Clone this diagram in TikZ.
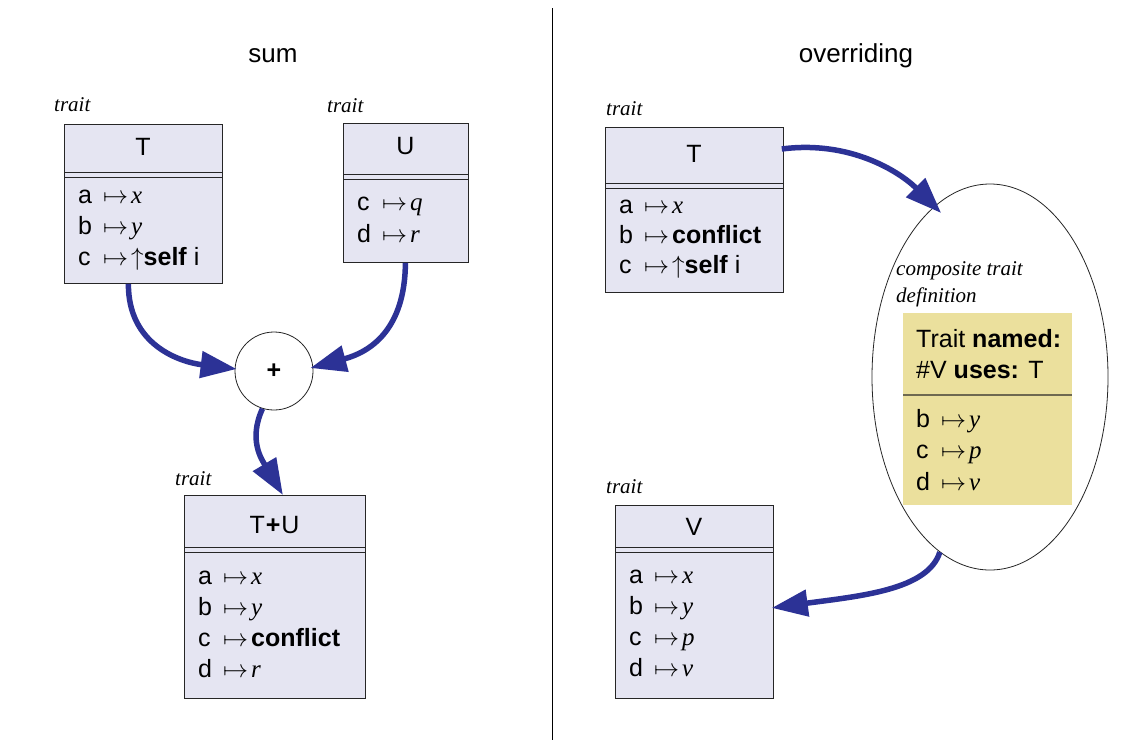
\RequirePackage{fix-cm}
\documentclass[tikz,border=0pt]{standalone}
\usepackage{fontspec}
\setmainfont{Liberation Sans}
\newfontfamily\tms{Liberation Serif}
\usetikzlibrary{arrows.meta,shapes.geometric}
\definecolor{boxfill}{RGB}{229,229,242}
\definecolor{yel}{RGB}{235,224,157}
\definecolor{sepcol}{RGB}{110,105,80}
\definecolor{arrblue}{RGB}{44,50,150}
\newcommand\mrow[2]{\makebox[1em][l]{#1}$\mapsto$\hspace{3pt}#2}
\newcommand\vi[1]{{\tms\itshape #1}}
\begin{document}
\begin{tikzpicture}[x=1pt,y=-1pt,
  box/.style={draw=black!85, fill=boxfill, line width=0.8pt, inner sep=0, anchor=north west},
  lbl/.style={font=\tms\itshape\fontsize{21}{24}\selectfont, anchor=base west, inner sep=0},
  txt/.style={font=\fontsize{25}{30}\selectfont, anchor=base west, inner sep=0},
  hdr/.style={font=\fontsize{25}{30}\selectfont, anchor=base, inner sep=0},
  ttl/.style={font=\fontsize{26}{30}\selectfont, anchor=base, inner sep=0},
  sep/.style={draw=black!85, line width=0.8pt},
  arr/.style={draw=arrblue, line width=5.5pt, -{Triangle[length=36pt,width=26pt]}}]
\useasboundingbox (0,0) rectangle (1126,740);
\fill[white] (0,0) rectangle (1126,740);
% divider
\draw[line width=0.8pt] (552,8) -- (552,740);
\node[ttl] (tsum) at (273,62) {sum};
\node[ttl] (tover) at (856,62) {overriding};

% left T
\node[box, minimum width=158pt, minimum height=159pt] (T1) at (64,124) {};
\node[lbl] (lT1) at (54,111) {trait};
\node[hdr] (hT1) at (143,155) {T};
\draw[sep] (64,172) -- (222,172);
\draw[sep] (64,177) -- (222,177);
\node[txt] (T1a) at (78,203) {\mrow{a}{\vi{x}}};
\node[txt] (T1b) at (78,234) {\mrow{b}{\vi{y}}};
\node[txt] (T1c) at (78,265) {\mrow{c}{$\uparrow$\textbf{self} i}};

% U
\node[box, minimum width=125pt, minimum height=139pt] (U) at (343,123) {};
\node[lbl] (lU) at (327,112) {trait};
\node[hdr] (hU) at (405.5,154) {U};
\draw[sep] (343,174) -- (468,174);
\draw[sep] (343,179) -- (468,179);
\node[txt] (Uc) at (357,210) {\mrow{c}{\vi{q}}};
\node[txt] (Ud) at (357,242) {\mrow{d}{\vi{r}}};

% plus
\node[circle, draw=black!85, line width=0.8pt, fill=white, minimum size=78pt, inner sep=0,
  font=\bfseries\fontsize{25}{30}\selectfont] (plus) at (274,371) {+};

% T+U
\node[box, minimum width=181pt, minimum height=203pt] (TU) at (184,495) {};
\node[lbl] (lTU) at (175,485) {trait};
\node[hdr] (hTU) at (274.5,533) {T\hspace{1pt}\textbf{+}\hspace{1pt}U};
\draw[sep] (184,547) -- (365,547);
\draw[sep] (184,552) -- (365,552);
\node[txt] (TUa) at (198,584) {\mrow{a}{\vi{x}}};
\node[txt] (TUb) at (198,615) {\mrow{b}{\vi{y}}};
\node[txt] (TUc) at (198,646) {\mrow{c}{\textbf{conflict}}};
\node[txt] (TUd) at (198,677) {\mrow{d}{\vi{r}}};

% right T
\node[box, minimum width=178pt, minimum height=165pt] (T2) at (605,127) {};
\node[lbl] (lT2) at (606,115) {trait};
\node[hdr] (hT2) at (694,162) {T};
\draw[sep] (605,183) -- (783,183);
\draw[sep] (605,188) -- (783,188);
\node[txt] (T2a) at (619,213) {\mrow{a}{\vi{x}}};
\node[txt] (T2b) at (619,243) {\mrow{b}{\textbf{conflict}}};
\node[txt] (T2c) at (619,273) {\mrow{c}{$\uparrow$\textbf{self} i}};

% ellipse
\node[ellipse, draw=black!85, line width=0.8pt, minimum width=236pt, minimum height=386pt, inner sep=0] (ell) at (990,377) {};
\node[lbl] (comp1) at (896,275) {composite trait};
\node[lbl] (comp2) at (896,302) {definition};
\node[fill=yel, minimum width=169pt, minimum height=192pt, inner sep=0, anchor=north west] (Y) at (903,313) {};
\draw[draw=sepcol, line width=1.2pt] (903,395) -- (1072,395);
\node[txt] (Y1) at (916,347) {Trait \textbf{named:}};
\node[txt] (Y2) at (916,378) {\#V \textbf{uses:} T};
\node[txt] (Yb) at (916,427) {\mrow{b}{\vi{y}}};
\node[txt] (Yc) at (916,458) {\mrow{c}{\vi{p}}};
\node[txt] (Yd) at (916,490) {\mrow{d}{\vi{v}}};

% V
\node[box, minimum width=158pt, minimum height=193pt] (V) at (615,505) {};
\node[lbl] (lV) at (606,493) {trait};
\node[hdr] (hV) at (694,535) {V};
\draw[sep] (615,547) -- (773,547);
\draw[sep] (615,552) -- (773,552);
\node[txt] (Va) at (629,583) {\mrow{a}{\vi{x}}};
\node[txt] (Vb) at (629,614) {\mrow{b}{\vi{y}}};
\node[txt] (Vc) at (629,645) {\mrow{c}{\vi{p}}};
\node[txt] (Vd) at (629,676) {\mrow{d}{\vi{v}}};

% arrows
\draw[arr] ([xshift=-15pt]T1.south) .. controls (128,345) and (180,362) .. ([xshift=2pt,yshift=2pt]plus.west);
\draw[arr] ([xshift=-0.5pt]U.south) .. controls (405,330) and (370,352) .. ([xshift=-3pt,yshift=3pt]plus.east);
\draw[arr] (plus.253) .. controls (248,440) and (262,460) .. ([xshift=8pt]TU.north);
\draw[arr] ([yshift=-22pt,xshift=-2pt]T2.north east) .. controls (850,140) and (900,172) .. ([xshift=4pt,yshift=-9pt]ell.107);
\draw[arr] (ell.254) .. controls (928,590) and (860,596) .. ([yshift=-6pt,xshift=-2pt]V.east);
\end{tikzpicture}
\end{document}
